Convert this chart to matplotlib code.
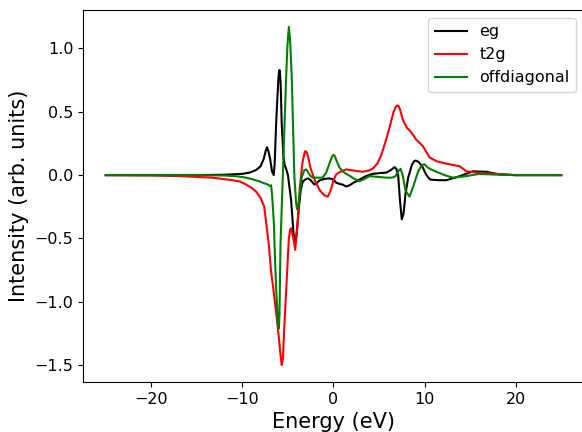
import matplotlib
matplotlib.use("Agg")
import matplotlib.pyplot as plt

# Energy grids (eV) and projected intensities for each channel
eg_energy = [-25, -20, -15, -12, -10, -9.2, -8.5, -8.0, -7.65, -7.45, -7.3, -7.15, -6.96, -6.75,
             -6.56, -6.45, -6.3, -6.2, -6.05, -5.98, -5.93, -5.87, -5.8, -5.68, -5.5, -5.38, -5.2,
             -5.0, -4.65, -4.4, -4.28, -4.2, -4.1, -4.0, -3.8, -3.6, -3.37, -3.0, -2.8, -2.5, -2.1,
             -1.8, -1.54, -1.0, -0.44, 0.0, 0.3, 0.7, 1.0, 1.4, 1.76, 2.2, 2.86, 3.5,
             4.3, 5.0, 5.8, 6.3, 6.7, 6.9, 7.1, 7.3, 7.5, 7.7, 7.9, 8.2, 8.6, 8.85, 9.0, 9.2, 9.4,
             9.8, 10.2, 10.6, 11.5, 12.4, 13.8, 15.3, 16.8, 18.2, 20, 25]
eg_values = [0, 0, 0, 0.003, 0.01, 0.02, 0.04, 0.07, 0.13, 0.19, 0.22, 0.19, 0.13, 0.03,
             0.0, 0.1, 0.4, 0.55, 0.76, 0.81, 0.83, 0.8, 0.72, 0.4, 0.15, 0.085, 0.05,
             0.0, -0.2, -0.45, -0.52, -0.54, -0.5, -0.42, -0.26, -0.12, -0.05, -0.03, -0.026, -0.04, -0.074,
             -0.06, -0.042, -0.03, -0.026, -0.035, -0.06, -0.07, -0.075, -0.09, -0.08, -0.06, -0.035, -0.01,
             0.01, 0.015, 0.02, 0.04, 0.063, 0.05, 0.0, -0.2, -0.35, -0.3, -0.15, -0.02, 0.08, 0.11, 0.115, 0.11, 0.1,
             0.06, 0.0, -0.035, -0.04, -0.04, -0.01, 0.03, 0.026, 0.005, 0, 0]

t2g_energy = [-25, -20, -16.9, -13.3, -11.1, -10.3, -9.6, -9.0, -8.5, -8.0, -7.6, -7.4,
              -7.1, -6.85, -6.6, -6.3, -6.0, -5.8, -5.68, -5.55, -5.4, -5.13, -4.9,
              -4.75, -4.65, -4.4, -4.2, -3.95, -3.7, -3.4, -3.2, -3.08, -2.95, -2.8, -2.5, -2.0, -1.5, -1.0,
              -0.62, -0.3, 0.0, 0.29, 0.7, 1.4, 2.3, 3.2, 3.8, 4.3, 4.8, 5.2, 5.7, 6.15,
              6.6, 6.85, 7.0, 7.15, 7.3, 7.6, 8.05, 8.4, 8.7, 9.08, 9.8, 10.55, 11.3, 12.4, 13.85,
              14.6, 15.7, 17.9, 20, 25]
t2g_values = [0, -0.003, -0.008, -0.02, -0.04, -0.05, -0.074, -0.1, -0.13, -0.18, -0.25, -0.37,
              -0.55, -0.76, -0.9, -1.08, -1.28, -1.43, -1.5, -1.45, -1.2, -0.82, -0.5,
              -0.43, -0.42, -0.5, -0.59, -0.4, -0.1, 0.1, 0.17, 0.19, 0.18, 0.15, 0.05, -0.05, -0.12, -0.16,
              -0.17, -0.12, -0.04, 0.005, 0.025, 0.045, 0.035, 0.026, 0.035, 0.05, 0.09, 0.15, 0.26, 0.375,
              0.5, 0.54, 0.55, 0.545, 0.52, 0.44, 0.375, 0.35, 0.32, 0.28, 0.23, 0.14, 0.11, 0.09, 0.07,
              0.03, 0.02, 0.01, 0, 0]

off_energy = [-25, -15, -12, -10.5, -9.6, -8.8, -8.1, -7.6, -7.2, -7.0, -6.85, -6.75,
              -6.55, -6.4, -6.3, -6.15, -6.08, -6.0, -5.93, -5.82, -5.57, -5.2, -5.05, -4.9, -4.75, -4.58, -4.29,
              -4.1, -4.0, -3.9, -3.8, -3.5, -3.2, -3.0, -2.6, -2.3, -1.8, -1.2, -0.8, -0.4, -0.15, 0.0, 0.15, 0.3,
              0.66, 1.0, 1.4, 1.76, 2.3, 2.86, 3.4, 3.96, 5.0, 5.8, 6.4, 6.8, 7.1, 7.36,
              7.6, 7.9, 8.35, 8.8, 9.3, 9.7, 10.0, 10.35, 10.7, 11.3, 12.2, 13.1, 14.6,
              16.0, 17.5, 20, 25]
off_values = [0, 0, -0.003, -0.01, -0.02, -0.035, -0.05, -0.065, -0.074, -0.087, -0.08, -0.15,
              -0.37, -0.7, -0.89, -1.1, -1.18, -1.21, -1.1, -0.55, -0.02, 0.77, 1.03, 1.17, 1.05, 0.77, -0.02,
              -0.22, -0.27, -0.26, -0.2, -0.02, 0.04, 0.045, 0.0, -0.02, -0.02, -0.02, 0.02, 0.1, 0.15, 0.16, 0.15, 0.12,
              0.06, 0.03, 0.01, -0.005, -0.03, -0.048, -0.03, -0.008, -0.015, -0.02, -0.02, -0.01, 0.03, 0.05,
              0.0, -0.12, -0.17, -0.08, 0.03, 0.08, 0.085, 0.06, 0.045, 0.026, 0.0, -0.02, -0.008,
              0.01, 0.005, 0, 0]

fig = plt.figure(figsize=(5.82, 4.32), dpi=100)
ax = fig.add_axes([0.1426, 0.1157, 0.8608, 0.8611])

ax.plot(eg_energy, eg_values, color="black", lw=1.5, label="eg")
ax.plot(t2g_energy, t2g_values, color="red", lw=1.5, label="t2g")
ax.plot(off_energy, off_values, color="green", lw=1.5, label="offdiagonal")

ax.set_xlabel("Energy (eV)", fontsize=15)
ax.set_ylabel("Intensity (arb. units)", fontsize=15)
ax.tick_params(labelsize=11.5)
ax.legend(loc="upper right", fontsize=11.5)

fig.savefig("out.png", dpi=100)
